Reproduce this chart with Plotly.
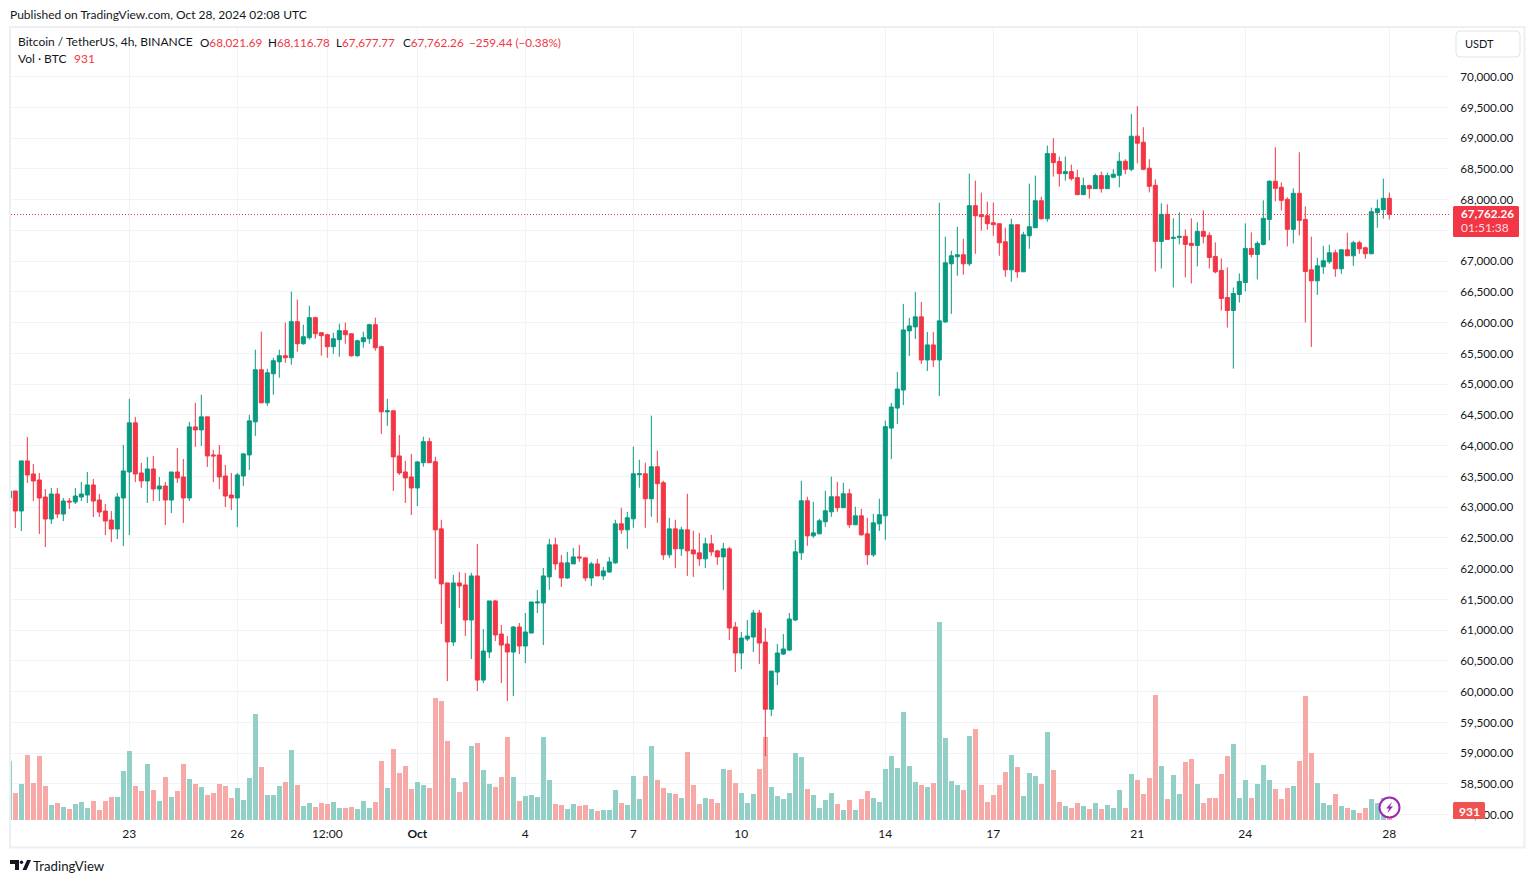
import pandas as pd
import plotly.graph_objects as go

# =====================================================
# DATA  (BTCUSDT 4h)
# =====================================================
FIRST_CANDLE = "2024-09-19 16:00"

opens = [
    63150, 63264, 62938, 63753, 63541, 63443, 63166, 62808, 63215, 62889,
    63101, 63085, 63166, 63199, 63362, 63117, 62938, 62791, 62645, 63150,
    63573, 64372, 63557, 63427, 63622, 63296, 63345, 63117, 63573, 63492,
    63150, 64306, 64257, 64469, 63850, 63850, 63508, 63199, 63150, 63508,
    63850, 64388, 65235, 64697, 65170, 65365, 65463, 65430, 66017, 65658,
    65756, 66082, 65838, 65805, 65610, 65724, 65870, 65821, 65463, 65691,
    65740, 65968, 65610, 64551, 64567, 63834, 63573, 63492, 63313, 63724,
    64066, 63740, 62648, 61769, 60808, 61769, 61736, 61166, 61883, 60189,
    60645, 61476, 60938, 60775, 60645, 61052, 60743, 60954, 61443, 61443,
    61867, 62388, 62095, 61850, 62078, 62192, 62176, 61850, 62078, 61883,
    61948, 62095, 62730, 62632, 62811, 63528, 63544, 63137, 63658, 63398,
    62225, 62648, 62323, 62632, 62306, 62258, 62160, 62404, 62290, 62192,
    62323, 61052, 60629, 60857, 60889, 61280, 60808, 59716, 60319, 60612,
    60677, 61166, 62258, 63105, 62534, 62567, 62763, 62925, 63170, 62991,
    63219, 62714, 62860, 62567, 62225, 62730, 62860, 64286, 64612, 64905,
    65867, 65932, 66095, 65394, 65639, 65394, 66013, 66958, 67072, 67105,
    66958, 67903, 67756, 67740, 67626, 67610, 67316, 66860, 67593, 66828,
    67414, 67544, 67984, 67691, 68750, 68620, 68424, 68457, 68359, 68082,
    68229, 68180, 68392, 68180, 68365, 68397, 68625, 68495, 69033, 68935,
    68511, 68234, 67322, 67762, 67371, 67387, 67404, 67290, 67257, 67485,
    67420, 67078, 66850, 66410, 66198, 66459, 66654, 67208, 67110, 67273,
    67680, 68300, 68202, 68006, 67518, 68104, 67680, 66860, 66681, 66909,
    66991, 67137, 66877, 67186, 67088, 67300, 67219, 67121, 67789, 67838,
    68021.69,
]
highs = [
    63264, 63264, 63753, 64143, 63704, 63557, 63296, 63313, 63313, 63150,
    63150, 63313, 63410, 63573, 63459, 63215, 63052, 62938, 63231, 64013,
    64762, 64469, 63720, 63818, 63834, 63492, 63410, 63573, 63964, 63785,
    64388, 64697, 64828, 64469, 63932, 64013, 63687, 63557, 63557, 63883,
    64502, 65561, 65854, 65251, 65430, 65561, 66001, 66506, 66375, 65968,
    66277, 66098, 65838, 65821, 65838, 65984, 66001, 65821, 65724, 65854,
    65984, 66082, 65626, 64762, 64583, 64176, 63753, 63867, 63753, 64147,
    64131, 63821, 62795, 61769, 61899, 61948, 61932, 61932, 62404, 61019,
    61476, 61492, 61085, 60905, 61068, 61117, 61280, 61459, 61655, 62013,
    62486, 62502, 62225, 62274, 62339, 62388, 62192, 62111, 62160, 62029,
    62192, 62795, 62991, 62925, 63984, 63772, 63724, 64489, 63919, 63430,
    62828, 62795, 62681, 63219, 62616, 62583, 62502, 62551, 62306, 62420,
    62355, 61134, 60971, 61166, 61329, 61329, 61036, 60335, 60775, 60938,
    61280, 62469, 63430, 63170, 63088, 62811, 63268, 63496, 63414, 63398,
    63300, 63007, 62974, 62828, 62893, 63137, 64408, 64694, 65199, 66306,
    66078, 66502, 66339, 65850, 65850, 67952, 67398, 67170, 67561, 67365,
    68424, 68310, 68115, 67968, 67952, 67610, 67544, 67691, 67593, 67479,
    68261, 68392, 68049, 68880, 69000, 68701, 68701, 68571, 68489, 68359,
    68245, 68424, 68457, 68440, 68495, 68772, 68658, 69391, 69521, 69179,
    68658, 68332, 67941, 67925, 67697, 67795, 67518, 67697, 67632, 67827,
    67469, 67306, 67045, 66899, 66573, 66801, 67615, 67469, 67322, 67990,
    68316, 68853, 68283, 68039, 68185, 68772, 67892, 67398, 67056, 67251,
    67268, 67186, 67186, 67463, 67333, 67333, 67235, 67870, 68001, 68343,
    68116.78,
]
lows = [
    63150, 62661, 62612, 63394, 63101, 62563, 62352, 62726, 62824, 62775,
    62971, 63052, 63101, 63068, 62840, 62840, 62547, 62433, 62482, 62368,
    62547, 63410, 63313, 63068, 63101, 63101, 62710, 62905, 63394, 62743,
    63101, 63981, 63997, 63655, 63410, 63296, 63003, 62954, 62677, 63345,
    63606, 64160, 64697, 64648, 64828, 65105, 65349, 65316, 65528, 65642,
    65724, 65740, 65463, 65430, 65496, 65447, 65658, 65447, 65447, 65593,
    65658, 65544, 64192, 64323, 63264, 63524, 63068, 62873, 63019, 63658,
    63724, 61834, 61101, 60172, 60743, 61362, 60905, 60531, 60010, 60140,
    60547, 60824, 60140, 59847, 59928, 60612, 60466, 60954, 61280, 60759,
    61655, 61981, 61704, 61834, 62078, 62111, 61801, 61720, 61883, 61818,
    61932, 62078, 62567, 62323, 62665, 63316, 62665, 62844, 62746, 62143,
    62176, 62013, 62209, 61883, 61867, 62046, 62013, 62209, 62062, 61655,
    60840, 60319, 60368, 60824, 60645, 60449, 58951, 59602, 60107, 60596,
    60661, 61150, 62143, 62372, 62502, 62567, 62681, 62844, 62925, 62991,
    62665, 62714, 62534, 62062, 62192, 62616, 62469, 63781, 64352, 64661,
    65459, 65736, 65329, 65215, 65280, 64808, 65997, 66144, 66763, 66779,
    66925, 67121, 67496, 67512, 67414, 67088, 66746, 66665, 66730, 66828,
    67202, 67544, 67675, 67642, 68375, 68212, 68310, 68310, 68082, 68082,
    68017, 68180, 68115, 68180, 68348, 68202, 68414, 68462, 68593, 68479,
    68120, 66833, 66882, 67355, 66573, 67273, 66736, 66638, 66915, 67290,
    66882, 66801, 66198, 65921, 65253, 66328, 66508, 67061, 66703, 67257,
    67338, 67974, 67827, 67241, 67290, 67420, 66003, 65606, 66453, 66795,
    66958, 66746, 66795, 67088, 66925, 67121, 67039, 67121, 67544, 67691,
    67677.77,
]
closes = [
    63264, 62938, 63753, 63524, 63427, 63150, 62808, 63215, 62889, 63101,
    63085, 63182, 63215, 63362, 63101, 62922, 62775, 62645, 63166, 63590,
    64372, 63541, 63427, 63622, 63296, 63345, 63117, 63573, 63476, 63150,
    64306, 64257, 64469, 63834, 63834, 63492, 63182, 63150, 63524, 63867,
    64404, 65235, 64697, 65186, 65382, 65463, 65430, 66017, 65658, 65772,
    66082, 65821, 65789, 65610, 65740, 65870, 65805, 65463, 65707, 65756,
    65968, 65593, 64551, 64567, 63818, 63557, 63476, 63313, 63736, 64066,
    63724, 62632, 61753, 60808, 61769, 61720, 61166, 61883, 60189, 60661,
    61476, 60922, 60759, 60645, 61052, 60743, 60971, 61459, 61459, 61883,
    62388, 62078, 61850, 62095, 62192, 62176, 61850, 62078, 61883, 61964,
    62111, 62730, 62632, 62828, 63544, 63544, 63137, 63658, 63382, 62225,
    62648, 62323, 62632, 62290, 62241, 62160, 62404, 62274, 62192, 62323,
    61036, 60629, 60873, 60905, 61280, 60791, 59716, 60335, 60629, 60694,
    61182, 62274, 63105, 62534, 62583, 62779, 62942, 63170, 62991, 63219,
    62714, 62860, 62551, 62225, 62746, 62877, 64310, 64629, 64922, 65883,
    65948, 66095, 65394, 65639, 65394, 66030, 66974, 67088, 67105, 66958,
    67903, 67740, 67724, 67610, 67593, 67300, 66860, 67593, 66828, 67430,
    67561, 67984, 67691, 68750, 68603, 68424, 68457, 68343, 68082, 68229,
    68180, 68392, 68180, 68392, 68414, 68625, 68495, 69033, 68919, 68495,
    68218, 67322, 67762, 67355, 67387, 67404, 67273, 67257, 67485, 67404,
    67061, 66828, 66394, 66198, 66475, 66671, 67208, 67110, 67290, 67697,
    68300, 68185, 67990, 67518, 68104, 67664, 66833, 66681, 66925, 67007,
    67137, 66877, 67186, 67088, 67300, 67202, 67121, 67805, 67854, 68021.69,
    67762.26,
]
volumes = [
    3540, 1620, 2160, 3900, 2220, 3840, 2040, 900, 1020, 780,
    660, 960, 1080, 720, 1140, 600, 1140, 1380, 1380, 2940,
    4140, 2040, 1740, 3360, 1800, 1140, 2580, 1380, 1740, 3360,
    2460, 2160, 1980, 1500, 1620, 2160, 2040, 1320, 1920, 1200,
    2520, 6360, 3180, 1500, 1500, 2040, 2280, 4200, 2100, 840,
    1020, 780, 1020, 960, 1080, 720, 720, 780, 660, 1140,
    720, 1080, 3540, 1920, 4260, 2820, 3240, 1860, 2280, 2100,
    1920, 7320, 7140, 4740, 2520, 1680, 2280, 4440, 4620, 3000,
    2160, 1980, 2580, 4980, 2580, 1140, 1440, 1500, 1380, 4980,
    2400, 960, 900, 660, 960, 840, 900, 660, 540, 600,
    600, 1800, 1020, 900, 2640, 1260, 2640, 4440, 2400, 1920,
    1620, 1560, 1320, 4080, 2100, 960, 1320, 1260, 1020, 3060,
    3000, 2220, 1620, 1020, 1560, 3060, 4980, 1980, 1440, 1260,
    1620, 4020, 3780, 1860, 1500, 720, 1200, 1620, 960, 600,
    1200, 600, 1260, 1740, 1320, 1080, 3060, 3840, 3120, 6480,
    3240, 2280, 2100, 1980, 2220, 11880, 4920, 2340, 2100, 1800,
    5040, 5460, 2100, 1080, 1500, 2100, 2880, 3900, 3180, 1440,
    2820, 2640, 2160, 5280, 3000, 1080, 840, 720, 1020, 840,
    660, 1020, 660, 900, 720, 1800, 720, 2760, 2400, 1560,
    2520, 7500, 3240, 1260, 2700, 1560, 3480, 3660, 2160, 1020,
    1320, 1320, 2760, 3840, 4560, 1320, 2400, 1320, 2160, 3300,
    2400, 1860, 1260, 1920, 2040, 3540, 7440, 4020, 2220, 1020,
    900, 1560, 840, 720, 600, 420, 720, 1260, 1020, 1320,
    931,
]

time_ticks = ["2024-09-23", "2024-09-26", "2024-09-28 12:00", "2024-10-01", "2024-10-04",
              "2024-10-07", "2024-10-10", "2024-10-14", "2024-10-17", "2024-10-21",
              "2024-10-24", "2024-10-28"]
time_labels = ["23", "26", "12:00", "<b>Oct</b>", "4", "7", "10", "14", "17", "21", "24", "28"]
price_ticks = [58000 + 500 * i for i in range(25)]
last_price = 67762.26

# =====================================================
# COLORS + PIXEL HELPERS
# =====================================================
W, H = 1534, 883
FONT = "Lato"
UP, DOWN = "#089981", "#F23645"
TEXT = "#131722"
GRID = "#f2f3f6"
FRAME = "#eeeff3"


def px(x):
    return x / W


def py(y):
    return 1 - y / H


def label(x, y, text, color=TEXT, size=12, anchor="left"):
    fig.add_annotation(
        x=px(x), y=py(y), xref="paper", yref="paper",
        text=text, showarrow=False, xanchor=anchor, yanchor="middle",
        font=dict(family=FONT, size=size, color=color),
        borderpad=0, borderwidth=0,
    )


def rounded(x0, y0, x1, y1, r):
    return (
        f"M{px(x0 + r)},{py(y0)} L{px(x1 - r)},{py(y0)} Q{px(x1)},{py(y0)} {px(x1)},{py(y0 + r)} "
        f"L{px(x1)},{py(y1 - r)} Q{px(x1)},{py(y1)} {px(x1 - r)},{py(y1)} "
        f"L{px(x0 + r)},{py(y1)} Q{px(x0)},{py(y1)} {px(x0)},{py(y1 - r)} "
        f"L{px(x0)},{py(y0 + r)} Q{px(x0)},{py(y0)} {px(x0 + r)},{py(y0)} Z"
    )


def poly(points):
    return "M" + " L".join(f"{px(x)},{py(y)}" for x, y in points) + " Z"


# =====================================================
# FIGURE
# =====================================================
dates = pd.date_range(FIRST_CANDLE, periods=len(closes), freq="4h")
vol_colors = ["#92d0c7" if c >= o else "#f7a9a7" for o, c in zip(opens, closes)]

fig = go.Figure()
fig.add_trace(go.Bar(
    x=dates, y=volumes, yaxis="y", width=4 * 3600 * 1000 * 5 / 6,
    marker=dict(color=vol_colors, line=dict(width=0)),
    hoverinfo="skip",
))
fig.add_trace(go.Candlestick(
    x=dates, open=opens, high=highs, low=lows, close=closes, yaxis="y2",
    increasing=dict(line=dict(color=UP, width=1), fillcolor=UP),
    decreasing=dict(line=dict(color=DOWN, width=1), fillcolor=DOWN),
    whiskerwidth=0,
))

fig.update_layout(
    width=W, height=H,
    margin=dict(l=0, r=0, t=0, b=0),
    paper_bgcolor="white", plot_bgcolor="white",
    showlegend=False, boxgap=0.33, boxgroupgap=0, bargap=0,
    font=dict(family=FONT, size=12, color=TEXT),
    xaxis=dict(
        domain=[px(11), px(1449)],
        type="date", range=["2024-09-19 17:07", "2024-10-29 15:47"],
        rangeslider=dict(visible=False),
        tickmode="array", tickvals=time_ticks, ticktext=time_labels, tickangle=0,
        showgrid=True, gridcolor=GRID, gridwidth=1, zeroline=False, showline=False,
        ticks="outside", ticklen=3, tickcolor="rgba(0,0,0,0)",
        tickfont=dict(family=FONT, size=12, color=TEXT),
    ),
    yaxis=dict(
        domain=[py(820), py(28)], range=[0, 47520],
        visible=False, showgrid=False, zeroline=False,
    ),
    yaxis2=dict(
        domain=[py(820), py(28)], range=[57914, 70792],
        overlaying="y", side="right", anchor="x",
        tickmode="array", tickvals=price_ticks,
        # the 67,500 label sits behind the price tag in the original
        ticktext=["" if p == 67500 else f"{p:,.2f}" for p in price_ticks],
        showgrid=True, gridcolor=GRID, gridwidth=1, zeroline=False, showline=False,
        ticks="outside", ticklen=8, tickcolor="rgba(0,0,0,0)",
        tickfont=dict(family=FONT, size=11.7, color=TEXT),
    ),
)

# -----------------------
# FRAME + PRICE LINE
# -----------------------
fig.add_shape(type="rect", xref="paper", yref="paper", x0=px(10), x1=px(1524.5), y0=py(847.5), y1=py(27),
              line=dict(color=FRAME, width=2), layer="below")
fig.add_shape(type="line", xref="paper", yref="paper", x0=px(11), x1=px(1449), y0=py(214.5), y1=py(214.5),
              line=dict(color=DOWN, width=1, dash="1px,2px"))

# price tag
fig.add_shape(type="path", xref="paper", yref="paper", path=rounded(1453, 206, 1519, 237, 1.5),
              fillcolor=DOWN, line=dict(width=0))
label(1461, 213, f"<b>{last_price:,.2f}</b>", "white", size=11.7)
label(1461, 228, "01:51:38", "#fcdde1")

# volume tag
fig.add_shape(type="path", xref="paper", yref="paper", path=rounded(1453, 802, 1485, 819, 1.5),
              fillcolor="#ef5350", line=dict(width=0))
label(1469, 811, f"<b>{volumes[-1]}</b>", "white", anchor="center")

# scale mode box
fig.add_shape(type="path", xref="paper", yref="paper", path=rounded(1456, 31, 1520, 57, 4),
              fillcolor="white", line=dict(color="#e0e3eb", width=1))
label(1465, 43.5, "USDT", size=11)

# lightning badge
fig.add_shape(type="circle", xref="paper", yref="paper", x0=px(1379.5), x1=px(1399.5), y0=py(817.5), y1=py(797.5),
              fillcolor="white", line=dict(color="#9c27b0", width=2))
fig.add_shape(type="path", xref="paper", yref="paper",
              path=poly([(1392, 802), (1386, 808.5), (1389, 808.5), (1387.5, 813), (1393, 806.5), (1390, 806.5)]),
              fillcolor="#9c27b0", line=dict(width=0))

# -----------------------
# TEXTS
# -----------------------
label(10, 15, "Published on TradingView.com, Oct 28, 2024 02:08 UTC")

label(18, 42, "Bitcoin / TetherUS, 4h, BINANCE")
for x, key, val in [(199.5, "O", "68,021.69"), (268, "H", "68,116.78"),
                    (335.5, "L", "67,677.77"), (402.5, "C", "67,762.26")]:
    label(x, 41.5, f'{key}<span style="color:{DOWN}">{val}</span>', size=11.7)
label(469, 41.5, "−259.44 (−0.38%)", DOWN, size=11.7)
label(18, 59, "Vol · BTC")
label(74, 59, "931", DOWN)

# logo
fig.add_shape(type="path", xref="paper", yref="paper",
              path=poly([(10, 860), (19, 860), (19, 870), (15, 870), (15, 864), (10, 864)]),
              fillcolor=TEXT, line=dict(width=0))
fig.add_shape(type="circle", xref="paper", yref="paper", x0=px(19.8), x1=px(23.2), y0=py(864), y1=py(860.5),
              fillcolor=TEXT, line=dict(width=0))
fig.add_shape(type="path", xref="paper", yref="paper",
              path=poly([(27, 860), (31, 860), (26.5, 870), (22.5, 870)]),
              fillcolor=TEXT, line=dict(width=0))
label(33, 865.5, "TradingView", size=13.2)

fig.write_html("out.html", config=dict(displayModeBar=False),
               post_script="document.body.style.margin='0';")
